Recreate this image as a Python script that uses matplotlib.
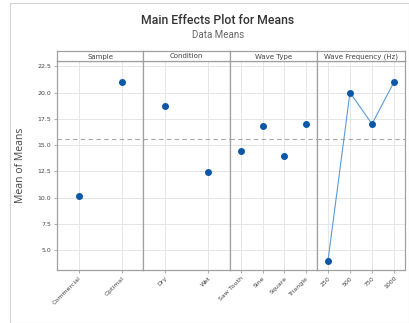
import matplotlib.pyplot as plt
from matplotlib.patches import Rectangle

factors = ["Sample", "Condition", "Wave Type", "Wave Frequency (Hz)"]
levels = [["Commercial", "Optimal"],
          ["Dry", "Wet"],
          ["Saw Tooth", "Sine", "Square", "Triangle"],
          ["250", "500", "750", "1000"]]
means = [[10.1, 21.0],
         [18.7, 12.4],
         [14.4, 16.8, 14.0, 17.0],
         [4.0, 20.0, 17.0, 21.0]]
# only the continuous factor gets a connecting line
connect = [False, False, False, True]
grand_mean = 15.55
yticks = [5.0, 7.5, 10.0, 12.5, 15.0, 17.5, 20.0, 22.5]

W, H = 409, 323
fig = plt.figure(figsize=(W / 100, H / 100), dpi=100)
fig.patch.set_facecolor("white")

# light frame round the whole graph window
fig.patches.append(Rectangle((10 / W, 0), 1 - 10 / W, 1 - 3 / H, transform=fig.transFigure,
                             fill=False, edgecolor="#d4d4d4", linewidth=0.8))

fig.text(218 / W, 1 - 21 / H, "Main Effects Plot for Means", ha="center", va="center",
         fontsize=8.8, color="#333333", family="Roboto", fontweight="medium")
fig.text(218 / W, 1 - 35 / H, "Data Means", ha="center", va="center",
         fontsize=7.0, color="#666666", family="Roboto")

edges = [57, 143, 230, 317, 405]
bottom = 1 - 270 / H
top = 1 - 61 / H
strip_top = 1 - 51 / H
frame_col = "#a0a0a0"

for i, name in enumerate(factors):
    x0 = edges[i] / W
    w = (edges[i + 1] - edges[i]) / W
    ax = fig.add_axes([x0, bottom, w, top - bottom])
    n = len(levels[i])
    xs = list(range(n))
    ax.set_xlim(-0.5, n - 0.5)
    ax.set_ylim(3.1, 23.0)
    ax.set_xticks(xs)
    ax.set_xticklabels(levels[i], rotation=45, ha="right", rotation_mode="anchor",
                       fontsize=4.5, color="#444444")
    ax.set_yticks(yticks)
    ax.grid(True, color="#e6e6e6", linewidth=0.7)
    ax.set_axisbelow(True)
    ax.axhline(grand_mean, color="#a8a8a8", linestyle=(0, (4, 3)), linewidth=0.8)
    if connect[i]:
        ax.plot(xs, means[i], color="#5b9bd5", linewidth=0.8, zorder=3)
    ax.plot(xs, means[i], "o", color="#0b57a8", markersize=4, zorder=4)
    for s in ax.spines.values():
        s.set_color(frame_col)
        s.set_linewidth(0.9)
    ax.tick_params(axis="x", length=2.5, width=0.6, color=frame_col, pad=1.5)
    if i == 0:
        ax.set_yticklabels(["%.1f" % v for v in yticks], fontsize=4.5, color="#444444")
        ax.tick_params(axis="y", length=2.5, width=0.6, color=frame_col, pad=1.5)
        ax.set_ylabel("Mean of Means", fontsize=7.5, color="#444444", labelpad=8,
                      family="Open Sans")
    else:
        ax.tick_params(axis="y", length=0, labelleft=False)

    # factor name strip above each panel
    sax = fig.add_axes([x0, top, w, strip_top - top])
    sax.set_xticks([])
    sax.set_yticks([])
    for s in sax.spines.values():
        s.set_color(frame_col)
        s.set_linewidth(0.9)
    sax.text(0.5, 0.45, name, ha="center", va="center", fontsize=5, color="#444444",
             transform=sax.transAxes)

fig.savefig("out.png", dpi=100)
